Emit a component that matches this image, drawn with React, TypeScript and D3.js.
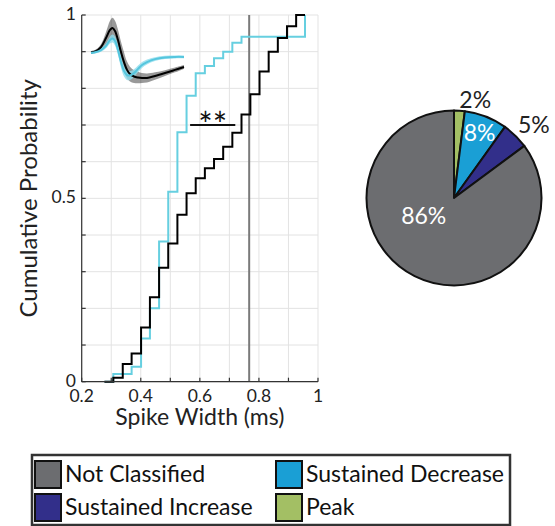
import React from "react";
import * as d3 from "d3";

// Spike-width bin edges (ms) and the cumulative fraction reached at each edge
const widthEdges = [0.277, 0.307, 0.339, 0.369, 0.401, 0.431, 0.462, 0.493, 0.524, 0.555, 0.586, 0.617, 0.648, 0.679, 0.71, 0.741, 0.771, 0.802, 0.833, 0.864, 0.895, 0.926, 0.956];
const cdfNotClassified = [0, 0.011, 0.048, 0.077, 0.148, 0.23, 0.311, 0.377, 0.455, 0.514, 0.555, 0.582, 0.607, 0.641, 0.679, 0.729, 0.784, 0.846, 0.9, 0.937, 0.969, 1.0, 1.0];
const cdfDecrease = [0, 0.021, 0.021, 0.041, 0.118, 0.2, 0.382, 0.518, 0.68, 0.78, 0.841, 0.861, 0.882, 0.9, 0.924, 0.941, 0.941, 0.941, 0.941, 0.941, 0.941, 0.941, 1.0];

// Narrow/wide cutoff (ms)
const widthCutoff = 0.767;
// Significance bracket: span in ms, height in probability
const sigSpan = [0.567, 0.72];
const sigLevel = 0.7;
const sigText = "**";

// Axis ticks
const xTicks = d3.range(0.2, 1.0001, 0.1);
const yTicks = d3.range(0, 1.0001, 0.1);
const xTickLabels = ["0.2", "0.4", "0.6", "0.8", "1"];
const yTickLabels = ["0", "0.5", "1"];

// Mean waveforms (normalised amplitude) with their spread, sampled in ms
const waveTime = [0, 0.1, 0.2, 0.3, 0.38, 0.43, 0.48, 0.54, 0.6, 0.66, 0.72, 0.78, 0.86, 0.94, 1.02, 1.12, 1.28, 1.48, 1.68, 1.86];
const waveNotClassified = [0, 0.06, 0.22, 0.59, 0.92, 1.0, 0.88, 0.51, 0.02, -0.39, -0.71, -0.88, -0.98, -1.02, -1.04, -1.04, -0.96, -0.84, -0.71, -0.59];
const waveNotClassifiedSd = [0.05, 0.07, 0.12, 0.25, 0.38, 0.42, 0.42, 0.42, 0.42, 0.4, 0.34, 0.3, 0.26, 0.23, 0.2, 0.18, 0.15, 0.12, 0.1, 0.08];
const waveDecrease = [-0.02, 0.02, 0.1, 0.27, 0.51, 0.57, 0.47, 0.1, -0.39, -0.76, -0.92, -0.94, -0.84, -0.67, -0.51, -0.39, -0.27, -0.2, -0.18, -0.18];
const waveDecreaseSd = [0.04, 0.05, 0.07, 0.1, 0.14, 0.16, 0.18, 0.2, 0.22, 0.22, 0.2, 0.18, 0.16, 0.14, 0.12, 0.1, 0.08, 0.07, 0.06, 0.06];

// Response classes
const classNames = ["Peak", "Sustained Decrease", "Sustained Increase", "Not Classified"];
const classPercents = [2, 8, 5, 86];
const classColors = ["#a3bf64", "#1a9fd5", "#322f8a", "#6c6d70"];
const legendOrder = ["Not Classified", "Sustained Decrease", "Sustained Increase", "Peak"];

const FONT = "Lato, 'Open Sans', sans-serif";
const CYAN = "#66cfe0";

export default function App() {
  // CDF panel
  const x = d3.scaleLinear().domain([0.2, 1]).range([81.7, 318]);
  const y = d3.scaleLinear().domain([0, 1]).range([381.7, 15]);
  const step = d3
    .line<[number, number]>()
    .x((d) => x(d[0]))
    .y((d) => y(d[1]))
    .curve(d3.curveStepAfter);
  const pts = (vals: number[]) => widthEdges.map((e, i) => [e, vals[i]] as [number, number]);

  // Waveform inset
  const wx = d3.scaleLinear().domain([0, 1.86]).range([91, 184]);
  const wy = d3.scaleLinear().domain([-1, 1]).range([77, 28]);
  const waveLine = d3
    .line<number>()
    .x((_, i) => wx(waveTime[i]))
    .y((d) => wy(d))
    .curve(d3.curveCatmullRom);
  const band = (m: number[], s: number[]) =>
    d3
      .area<number>()
      .x((_, i) => wx(waveTime[i]))
      .y0((_, i) => wy(m[i] - s[i]))
      .y1((_, i) => wy(m[i] + s[i]))
      .curve(d3.curveCatmullRom)(m) || "";

  // Pie
  const cx = 454;
  const cy = 198;
  const R = 87.5;
  const pie = d3.pie<number>().sort(null).value((d) => d);
  const arcs = pie(classPercents);
  const arc = d3.arc<d3.PieArcDatum<number>>().innerRadius(0).outerRadius(R);
  // label placement: radius factor and angular nudge per class
  const labelPlace = [
    { r: 1.15, da: 0.15, color: "#222" },
    { r: 0.8, da: 0, color: "#fff" },
    { r: 1.24, da: 0.05, color: "#222" },
    { r: 0.4, da: 0.58, color: "#fff" },
  ];

  return (
    <svg
      width={555}
      height={526}
      style={{ position: "absolute", left: 0, top: 0, background: "#fff" }}
      fontFamily={FONT}
    >
      {/* grid */}
      <g stroke="#e3e3e3" strokeWidth={1}>
        {xTicks.map((t) => (
          <line key={"gx" + t} x1={x(t)} x2={x(t)} y1={y(0)} y2={y(1)} />
        ))}
        {yTicks.map((t) => (
          <line key={"gy" + t} x1={x(0.2)} x2={x(1)} y1={y(t)} y2={y(t)} />
        ))}
      </g>

      {/* waveform inset */}
      <path d={band(waveNotClassified, waveNotClassifiedSd)} fill="#000" opacity={0.4} />
      <path d={band(waveDecrease, waveDecreaseSd)} fill="#8fdcec" opacity={0.8} />
      <path d={waveLine(waveNotClassified) || ""} fill="none" stroke="#000" strokeWidth={2} />
      <path d={waveLine(waveDecrease) || ""} fill="none" stroke="#55c6de" strokeWidth={2} />

      {/* cutoff */}
      <line x1={x(widthCutoff)} x2={x(widthCutoff)} y1={y(0)} y2={y(1)} stroke="#7a7a7a" strokeWidth={2} />

      {/* cumulative distributions */}
      <path d={step(pts(cdfDecrease)) || ""} fill="none" stroke={CYAN} strokeWidth={2} />
      <path d={step(pts(cdfNotClassified)) || ""} fill="none" stroke="#000" strokeWidth={2} />

      {/* significance */}
      <line x1={x(sigSpan[0])} x2={x(sigSpan[1])} y1={y(sigLevel)} y2={y(sigLevel)} stroke="#111" strokeWidth={2} />
      <text x={(x(sigSpan[0]) + x(sigSpan[1])) / 2} y={y(sigLevel) + 12} textAnchor="middle" fontSize={34} fill="#111">
        {sigText}
      </text>

      {/* axes */}
      <g stroke="#333" strokeWidth={1.2}>
        <line x1={x(0.2)} x2={x(0.2)} y1={y(0)} y2={y(1)} />
        <line x1={x(0.2)} x2={x(1)} y1={y(0)} y2={y(0)} />
        {xTicks.map((t) => (
          <line key={"tx" + t} x1={x(t)} x2={x(t)} y1={y(0)} y2={y(0) - 4} />
        ))}
        {yTicks.map((t) => (
          <line key={"ty" + t} x1={x(0.2)} x2={x(0.2) + 4} y1={y(t)} y2={y(t)} />
        ))}
      </g>
      <g fontSize={17.5} fill="#222">
        {xTickLabels.map((l) => (
          <text key={"lx" + l} x={x(+l)} y={402} textAnchor="middle">
            {l}
          </text>
        ))}
        {yTickLabels.map((l) => (
          <text key={"ly" + l} x={76} y={y(+l) + 5} textAnchor="end">
            {l}
          </text>
        ))}
      </g>
      <text x={(x(0.2) + x(1)) / 2} y={425} textAnchor="middle" fontSize={23} fill="#222">
        Spike Width (ms)
      </text>
      <text transform={`translate(37,${(y(0) + y(1)) / 2}) rotate(-90)`} textAnchor="middle" fontSize={24} fill="#222">
        Cumulative Probability
      </text>

      {/* pie */}
      <g transform={`translate(${cx},${cy})`}>
        {arcs.map((a, i) => (
          <path key={"s" + i} d={arc(a) || ""} fill={classColors[i]} stroke="#111" strokeWidth={2} strokeLinejoin="round" />
        ))}
        {arcs.map((a, i) => {
          const p = labelPlace[i];
          const ang = (a.startAngle + a.endAngle) / 2 + p.da;
          const rr = R * p.r;
          return (
            <text
              key={"pl" + i}
              x={Math.sin(ang) * rr}
              y={-Math.cos(ang) * rr + 8}
              textAnchor="middle"
              fontSize={23}
              fill={p.color}
            >
              {classPercents[i]}%
            </text>
          );
        })}
      </g>

      {/* legend */}
      <rect x={32} y={455} width={478} height={70} fill="#fff" stroke="#333" strokeWidth={2.5} />
      {legendOrder.map((name, k) => {
        const i = classNames.indexOf(name);
        const col = k % 2;
        const row = Math.floor(k / 2);
        const sx = col === 0 ? 35 : 276;
        const sy = 461 + row * 33;
        return (
          <g key={name}>
            <rect x={sx} y={sy} width={26} height={27} fill={classColors[i]} stroke="#111" strokeWidth={2} />
            <text x={sx + 30} y={sy + 21} fontSize={23} fill="#111">
              {name}
            </text>
          </g>
        );
      })}
    </svg>
  );
}
